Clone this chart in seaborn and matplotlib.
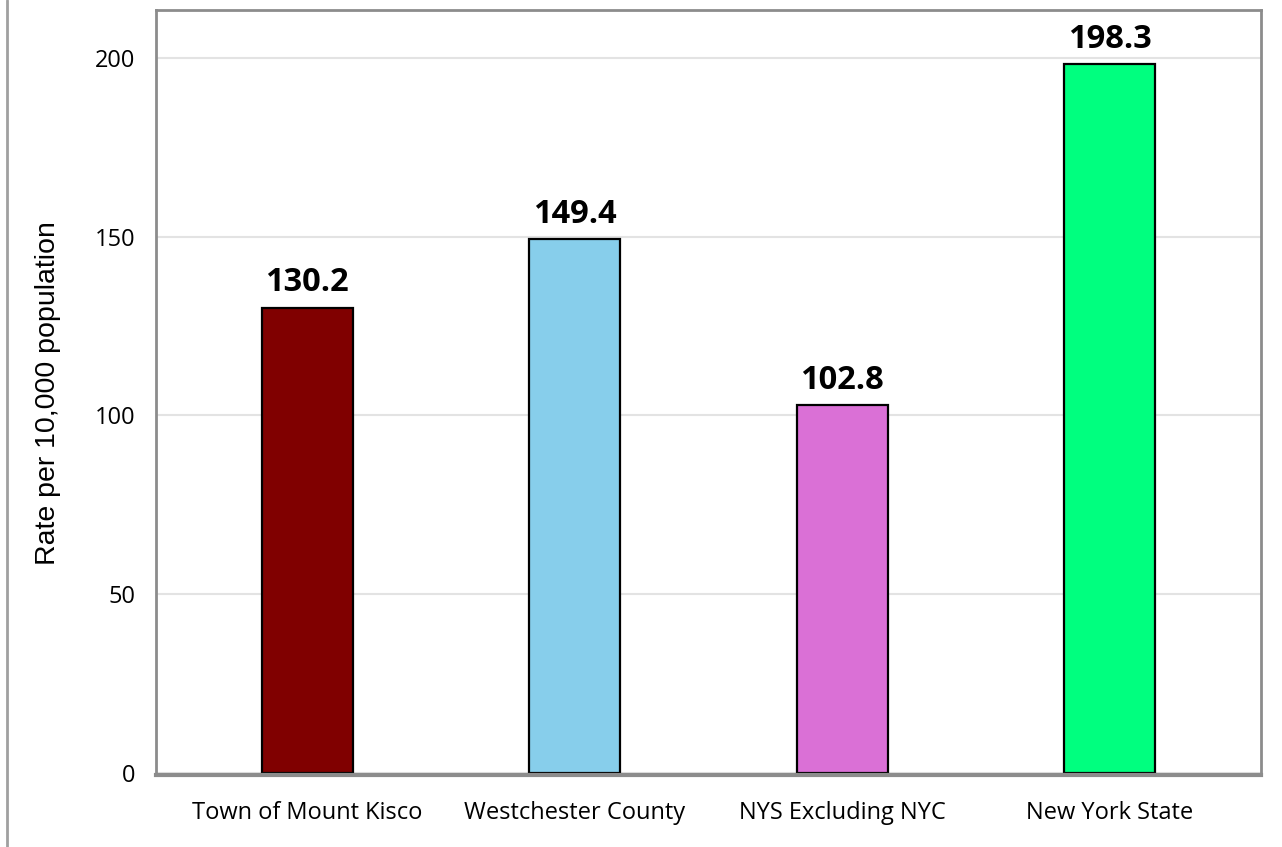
import matplotlib.pyplot as plt
import matplotlib.lines as mlines
import pandas as pd
import seaborn as sns

# ── data ────────────────────────────────────────────────────────────────────
regions = ["Town of Mount Kisco", "Westchester County", "NYS Excluding NYC", "New York State"]
rates   = [130.2, 149.4, 102.8, 198.3]
colors  = ["#800000", "#87CEEB", "#DA70D6", "#00FF7F"]
y_ticks = [0, 50, 100, 150, 200]

df = pd.DataFrame({"region": regions, "rate": rates})

# ── style ───────────────────────────────────────────────────────────────────
sns.set_theme(style="white")
plt.rcParams["font.family"] = ["Open Sans", "DejaVu Sans"]
plt.rcParams["text.color"] = "black"

fig = plt.figure(figsize=(12.82, 8.47), dpi=100)
ax = fig.add_axes([0.1217, 0.085, 0.8619, 0.903])

sns.barplot(data=df, x="region", y="rate", hue="region", palette=colors,
            order=regions, hue_order=regions, legend=False, saturation=1,
            width=0.34, edgecolor="black", linewidth=1.6, ax=ax)

ax.set_xlim(-0.565, 3.565)
ax.set_ylim(-0.6, 213.4)
ax.set_yticks(y_ticks)
ax.yaxis.grid(True, color="#e3e3e3", linewidth=1.5)
ax.set_axisbelow(True)

for spine in ax.spines.values():
    spine.set_color("#8c8c8c")
    spine.set_linewidth(2)
ax.spines["bottom"].set_linewidth(3)

ax.tick_params(axis="both", labelsize=17, colors="#8c8c8c", labelcolor="black",
               direction="out", length=9, width=1.5)
ax.tick_params(axis="x", length=11, pad=8)
ax.tick_params(axis="y", pad=6)

ax.set_xlabel("")
ax.set_ylabel("Rate per 10,000 population", fontsize=20.5, color="black",
              family=["Liberation Sans", "DejaVu Sans"])
ax.yaxis.set_label_coords(-0.086, 0.5)

# value labels above bars
for i, v in enumerate(rates):
    ax.annotate(f"{v:.1f}", (i, v), xytext=(0, 6), textcoords="offset points",
                ha="center", va="bottom", fontsize=23.5, fontweight="bold",
                color="black")

# thin frame line at left edge of the image
fig.add_artist(mlines.Line2D([0.0055, 0.0055], [0, 1], color="#a0a0a0", linewidth=2))

fig.savefig("out.png", dpi=100)
